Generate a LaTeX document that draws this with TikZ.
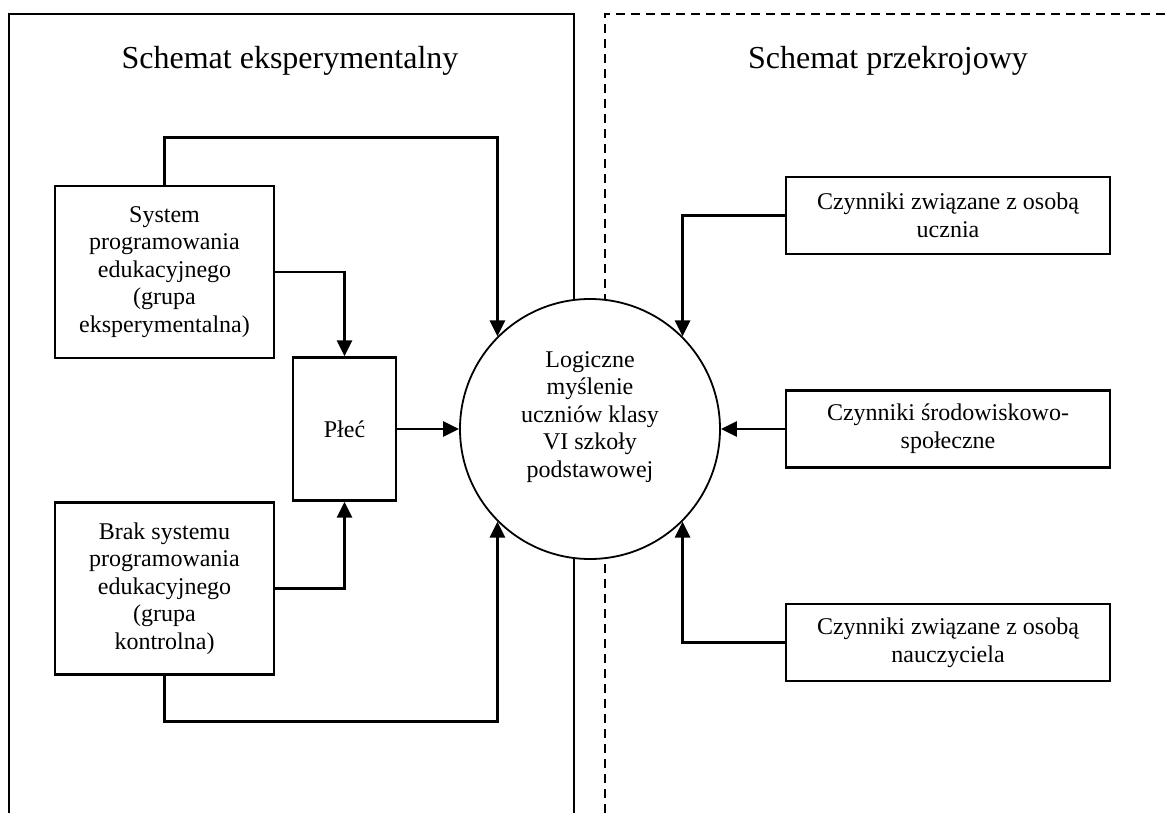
\documentclass[tikz,border=0pt]{standalone}
\usepackage{fontspec}
\setmainfont{Liberation Serif}
\usetikzlibrary{arrows.meta}
\begin{document}
\begin{tikzpicture}[x=0.5pt,y=-0.5pt,
  every node/.style={font=\fontsize{12pt}{13.8pt}\selectfont},
  box/.style={draw, line width=1.2pt, align=center, inner sep=0pt},
  wide/.style={box, minimum width=162pt, minimum height=38.5pt},
  side/.style={box, minimum width=109.5pt, minimum height=86pt},
  paneltitle/.style={font=\fontsize{16pt}{19pt}\selectfont, anchor=base},
  panel/.style={line width=1.3pt},
  link/.style={line width=1.3pt, -{Triangle[length=8pt,width=7.5pt]}},
  hub/.style={circle, draw, fill=white, line width=0.9pt, minimum size=130pt, inner sep=0pt}]
\useasboundingbox (0,0) rectangle (1169,813);

% the two panels (open at the bottom)
\draw[panel] (9,813) -- (9,14) -- (574,14) -- (574,813);
\draw[panel, dash pattern=on 4.5pt off 3pt] (605,813) -- (605,14) -- (1169,14);

\node[paneltitle] (t1) at (290,69) {Schemat eksperymentalny};
\node[paneltitle] (t2) at (888,69) {Schemat przekrojowy};

% left side: experimental design
\node[side] (sys) at (164.5,272)
  {System\\programowania\\edukacyjnego\\(grupa\\eksperymentalna)};
\node[side] (brak) at (164.5,588.5)
  {Brak systemu\\programowania\\edukacyjnego\\(grupa\\kontrolna)};
\node[box, minimum width=51.5pt, minimum height=71.5pt] (plec) at (344.5,429) {Płeć};

% central variable
\node[hub] (circ) at (590,429) {};
\node[align=center] (circtxt) at (590,417)
  {Logiczne\\myślenie\\uczniów klasy\\VI szkoły\\podstawowej};

% right side: cross-sectional design
\node[wide] (r1) at (948,215.5) {Czynniki związane z osobą\\ucznia};
\node[wide] (r2) at (948,429) {Czynniki środowiskowo-\\społeczne};
\node[wide] (r3) at (948,642.5) {Czynniki związane z osobą\\nauczyciela};

% connectors
\draw[link] (sys.north) -- ++(0,-47) -| (circ.135);
\draw[link] (sys.east) -| (plec.north);
\draw[link] (brak.east) -| (plec.south);
\draw[link] (plec.east) -- (circ.west);
\draw[link] (brak.south) -- ++(0,46) -| (circ.225);
\draw[link] (r1.west) -| (circ.45);
\draw[link] (r2.west) -- (circ.east);
\draw[link] (r3.west) -| (circ.315);
\end{tikzpicture}
\end{document}
